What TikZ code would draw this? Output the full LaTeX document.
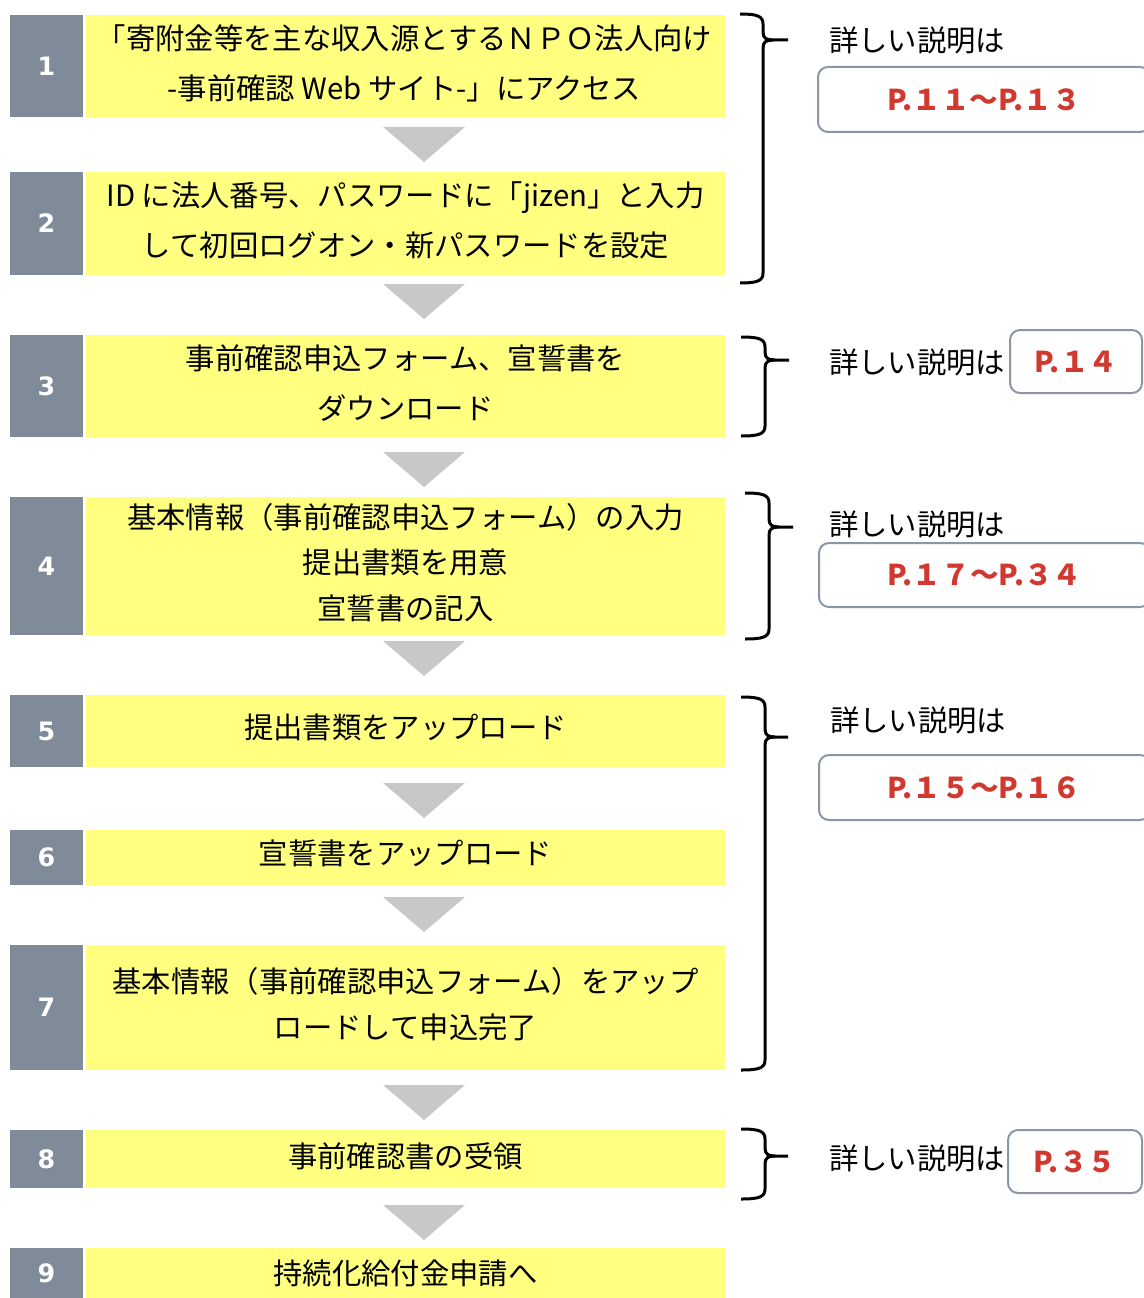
\documentclass[tikz,border=0pt]{standalone}
\usepackage{fontspec}
\setmainfont{Noto Sans CJK JP}
\newfontfamily\numfont{DejaVu Sans}
\newlength\px \setlength\px{0.75pt}
\definecolor{numgray}{RGB}{127,139,152}
\definecolor{stepyellow}{RGB}{255,255,128}
\definecolor{arrowgray}{RGB}{200,200,200}
\definecolor{pageborder}{RGB}{136,150,168}
\definecolor{pagered}{RGB}{208,56,48}
\newcommand\mybrace[6]{%
  \draw[bracestyle] (#1,#4) .. controls (#2-6,#4) and (#2,#4+2) .. (#2,#4+10) -- (#2,#5-8)
    .. controls (#2,#5-2) and (#2+3,#5) .. (#2+10,#5) -- (#3,#5);
  \draw[bracestyle] (#2+10,#5) .. controls (#2+3,#5) and (#2,#5+2) .. (#2,#5+8) -- (#2,#6-10)
    .. controls (#2,#6-2) and (#2-6,#6) .. (#1,#6);}
\newcommand\downtri[2]{\fill[arrowgray] (#1-41,#2) -- (#1+41,#2) -- (#1,#2+35) -- cycle;}
\begin{document}
\begin{tikzpicture}[x=0.75pt,y=-0.75pt,
  numbox/.style={fill=numgray,inner sep=0pt,outer sep=0pt,minimum width=73\px,
    text=white,font=\numfont\bfseries\fontsize{19pt}{22pt}\selectfont},
  stepbox/.style={fill=stepyellow,inner sep=0pt,outer sep=0pt,minimum width=639\px},
  steptext/.style={inner sep=0pt,align=center,font=\fontsize{22pt}{38pt}\selectfont},
  steptextb/.style={inner sep=0pt,align=center,font=\fontsize{22pt}{34.3pt}\selectfont},
  bracestyle/.style={line width=2.25pt,black},
  lbl/.style={inner sep=0pt,font=\fontsize{22pt}{24pt}\selectfont},
  pagebox/.style={draw=pageborder,line width=1.5pt,rounded corners=7.5pt,fill=white,
    inner sep=0pt,text=pagered,font=\bfseries\fontsize{21.5pt}{24pt}\selectfont}]
\useasboundingbox (0,0) rectangle (1144,1298);
\clip (0,0) rectangle (1144,1298);
% row 1
\node[numbox,minimum height=102\px] (n1) at (46.5,66) {1};
\node[stepbox,minimum height=102\px] (s1) at (405.5,66) {};
\node[steptext] (t1) at (404.5,63.5) {「寄附金等を主な収入源とするＮＰＯ法人向け\\-事前確認 Web サイト-」にアクセス};
% row 2
\node[numbox,minimum height=103\px] (n2) at (46.5,223.5) {2};
\node[stepbox,minimum height=103\px] (s2) at (405.5,223.5) {};
\node[steptext] (t2) at (405.5,220.5) {ID に法人番号、パスワードに「jizen」と入力\\して初回ログオン・新パスワードを設定};
% row 3
\node[numbox,minimum height=102\px] (n3) at (46.5,386) {3};
\node[stepbox,minimum height=102\px] (s3) at (405.5,386) {};
\node[steptext] (t3) at (405.5,383) {事前確認申込フォーム、宣誓書を\\ダウンロード};
% row 4
\node[numbox,minimum height=138\px] (n4) at (46.5,566) {4};
\node[stepbox,minimum height=138\px] (s4) at (405.5,566) {};
\node[steptextb] (t4) at (405.5,562.5) {基本情報（事前確認申込フォーム）の入力\\提出書類を用意\\宣誓書の記入};
% row 5
\node[numbox,minimum height=72\px] (n5) at (46.5,731) {5};
\node[stepbox,minimum height=72\px] (s5) at (405.5,731) {};
\node[steptext] (t5) at (405.5,727) {提出書類をアップロード};
% row 6
\node[numbox,minimum height=55\px] (n6) at (46.5,857.5) {6};
\node[stepbox,minimum height=55\px] (s6) at (405.5,857.5) {};
\node[steptext] (t6) at (405.5,853) {宣誓書をアップロード};
% row 7
\node[numbox,minimum height=125\px] (n7) at (46.5,1007.5) {7};
\node[stepbox,minimum height=125\px] (s7) at (405.5,1007.5) {};
\node[steptextb] (t7) at (405.5,1004) {基本情報（事前確認申込フォーム）をアップ\\ロードして申込完了};
% row 8
\node[numbox,minimum height=58\px] (n8) at (46.5,1159) {8};
\node[stepbox,minimum height=58\px] (s8) at (405.5,1159) {};
\node[steptext] (t8) at (405.5,1156) {事前確認書の受領};
% row 9
\node[numbox,minimum height=50\px] (n9) at (46.5,1273) {9};
\node[stepbox,minimum height=50\px] (s9) at (405.5,1273) {};
\node[steptext] (t9) at (405.5,1273) {持続化給付金申請へ};
% arrows
\downtri{424}{127}
\downtri{424}{284}
\downtri{424}{452}
\downtri{424}{641}
\downtri{424}{783}
\downtri{424}{897}
\downtri{424}{1085}
\downtri{424}{1205}
% braces
\mybrace{740}{763}{788}{14}{40}{283}
\mybrace{741}{765}{789}{337}{360}{436}
\mybrace{745}{769}{793}{493}{527}{639}
\mybrace{741}{765}{788}{697}{737}{1070}
\mybrace{741}{765}{788}{1129}{1156}{1199}
% labels and page boxes
\node[lbl] (l1) at (917,40) {詳しい説明は};
\node[pagebox,minimum width=332\px,minimum height=65\px] (p1) at (984,99.5) {P.１１～P.１３};
\node[lbl] (l3) at (917,362) {詳しい説明は};
\node[pagebox,minimum width=132\px,minimum height=63\px] (p3) at (1076,361.5) {P.１４};
\node[lbl] (l4) at (917,524) {詳しい説明は};
\node[pagebox,minimum width=331\px,minimum height=64\px] (p4) at (984.5,575) {P.１７～P.３４};
\node[lbl] (l5) at (918,720) {詳しい説明は};
\node[pagebox,minimum width=331\px,minimum height=65\px] (p5) at (984.5,787.5) {P.１５～P.１６};
\node[lbl] (l8) at (917,1158) {詳しい説明は};
\node[pagebox,minimum width=134\px,minimum height=63\px] (p8) at (1075,1161.5) {P.３５};
\end{tikzpicture}
\end{document}
